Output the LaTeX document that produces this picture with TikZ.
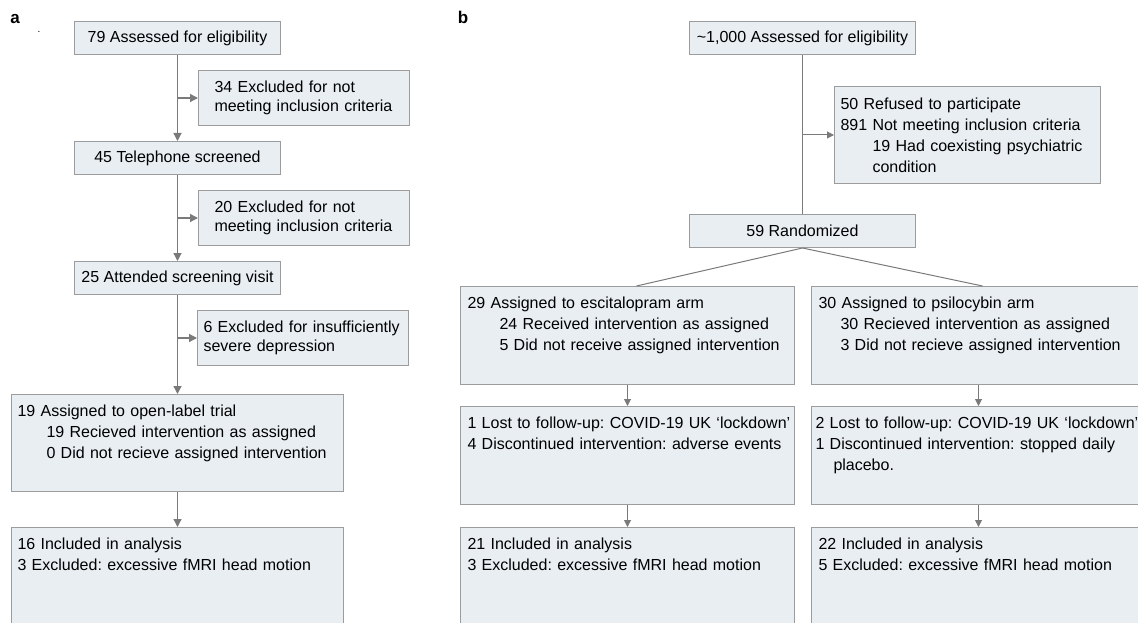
\documentclass[tikz,border=0pt]{standalone}
\usepackage{fontspec}
\setmainfont{Liberation Sans}
\usepackage{tikz}
\usetikzlibrary{arrows.meta,positioning,calc}
\definecolor{boxfill}{HTML}{E9EEF3}
\definecolor{boxline}{HTML}{9C9C9C}
\definecolor{flowline}{HTML}{7A7A7A}
\newcommand\ind[1]{\hspace*{#1pt}}
\newcommand\flowfont[1]{\fontsize{16}{#1}\selectfont\frenchspacing\hyphenpenalty=10000\exhyphenpenalty=10000}
\tikzset{
  flowbox/.style={draw=boxline, fill=boxfill, line width=1pt, anchor=north west,
    inner ysep=0pt, font=\flowfont{21}},
  onebox/.style={flowbox, minimum width=#1, minimum height=33pt, align=center, inner xsep=0pt},
  sidebox/.style n args={3}{flowbox, align=left, text width=#1, minimum height=#2, inner xsep=#3},
  tallbox/.style n args={3}{flowbox, align=left, text width=#1, inner xsep=#3,
    text height=22pt, text depth=#2},
  arr/.style={draw=flowline, line width=1.3pt, -{Triangle[length=8pt,width=8pt]}},
  barr/.style={draw=flowline, line width=1pt, -{Triangle[length=7pt,width=7pt]}},
  link/.style={draw=flowline, line width=1pt},
  panel/.style={inner sep=0pt, anchor=base, font=\fontsize{17}{17}\selectfont\bfseries}
}
\begin{document}
\begin{tikzpicture}[x=1pt, y=-1pt]
\useasboundingbox (0,0) rectangle (1138,623);
\clip (0,0) rectangle (1138,623);

\node[panel] (pa) at (15,24) {a};
\node[inner sep=0pt, anchor=base, font=\fontsize{10}{10}\selectfont] (dot) at (39,33) {.};
\node[onebox=206pt] (a1) at (74,21) {79 Assessed for eligibility};
\node[sidebox={179pt}{55pt}{16pt}, font=\flowfont{18.5}] (ax1) at (198,70)
  {34 Excluded for not\\meeting inclusion criteria};
\node[onebox=206pt] (a3) at (74,141) {45 Telephone screened};
\node[sidebox={179pt}{55pt}{16pt}, font=\flowfont{18.5}] (ax2) at (198,190)
  {20 Excluded for not\\meeting inclusion criteria};
\node[onebox=206pt] (a4) at (74,261) {25 Attended screening visit};
\node[sidebox={199pt}{55pt}{6pt}, font=\flowfont{18.5}] (ax3) at (197,310)
  {\mbox{6 Excluded for insufficiently}\\severe depression};
\node[tallbox={320pt}{75pt}{6pt}] (a5) at (11,394)
  {19 Assigned to open-label trial\\
   \ind{29}19 Recieved intervention as assigned\\
   \ind{29}0 Did not recieve assigned intervention};
\node[tallbox={320pt}{101pt}{6pt}] (a6) at (11,527)
  {16 Included in analysis\\3 Excluded: excessive fMRI head motion};

\draw[arr] (a1) -- (a3);
\draw[arr] (a1 |- ax1.west) -- (ax1.west);
\draw[arr] (a3) -- (a4);
\draw[arr] (a3 |- ax2.west) -- (ax2.west);
\draw[arr] (a4.south) -- (a5.north);
\draw[arr] (a4 |- ax3.west) -- (ax3.west);
\draw[arr] (a5) -- (a6);

\node[panel] (pb) at (463,24) {b};
\node[onebox=226pt] (b1) at (689,21) {\textasciitilde1,000 Assessed for eligibility};
\node[sidebox={254pt}{97pt}{6pt}] (bx) at (834,86)
  {50 Refused to participate\\891 Not meeting inclusion criteria\\
   \ind{32}19 Had coexisting psychiatric\\\ind{32}condition};
\node[onebox=226pt] (b2) at (689,214) {59 Randomized};
\node[tallbox={320pt}{76pt}{7pt}] (l1) at (460,286)
  {29 Assigned to escitalopram arm\\
   \ind{32}24 Received intervention as assigned\\
   \ind{32}5 Did not receive assigned intervention};
\node[tallbox={320pt}{76pt}{7pt}] (r1) at (811,286)
  {30 Assigned to psilocybin arm\\
   \ind{22}30 Recieved intervention as assigned\\
   \ind{22}3 Did not recieve assigned intervention};
\node[tallbox={320pt}{76pt}{7pt}] (l2) at (460,406)
  {\mbox{1 Lost to follow-up: COVID-19 UK ‘lockdown’}\\4 Discontinued intervention: adverse events};
\node[tallbox={326pt}{76pt}{4pt}] (r2) at (811,406)
  {\mbox{2 Lost to follow-up: COVID-19 UK ‘lockdown’}\\1 Discontinued intervention: stopped daily\\
   \ind{18}placebo.};
\node[tallbox={320pt}{101pt}{7pt}] (l3) at (460,527)
  {21 Included in analysis\\3 Excluded: excessive fMRI head motion};
\node[tallbox={320pt}{101pt}{7pt}] (r3) at (811,527)
  {22 Included in analysis\\5 Excluded: excessive fMRI head motion};

\draw[link] (b1) -- (b2);
\draw[barr] (b1 |- bx.west) -- (bx.west);
\draw[link] (b2.south) -- ([xshift=9pt]l1.north);
\draw[link] (b2.south) -- ([xshift=4pt]r1.north);
\draw[barr] (l1) -- (l2);
\draw[barr] (l2) -- (l3);
\draw[barr] (r1) -- (r2);
\draw[barr] (r2) -- (r3);
\end{tikzpicture}
\end{document}
